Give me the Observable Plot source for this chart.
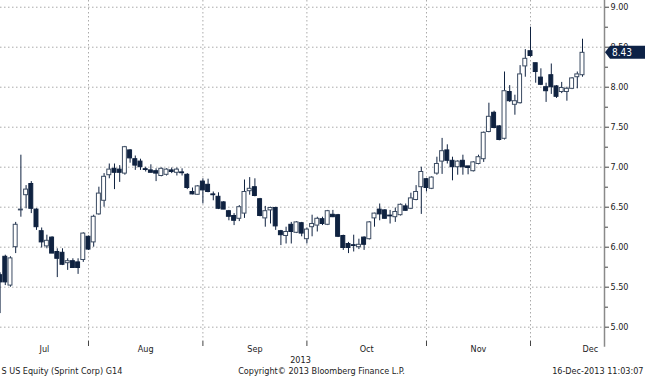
<!DOCTYPE html>
<html><head><meta charset="utf-8">
<script src="https://cdn.jsdelivr.net/npm/d3@7"></script>
<script src="https://cdn.jsdelivr.net/npm/@observablehq/plot@0.6"></script>
<style>body{margin:0;background:#fff;}#chart svg{display:block;}</style>
</head><body><div id="chart"></div>
<script>
const dates = [
"2013-07-09","2013-07-10","2013-07-11","2013-07-12","2013-07-15","2013-07-16","2013-07-17","2013-07-18","2013-07-19","2013-07-22","2013-07-23","2013-07-24","2013-07-25","2013-07-26","2013-07-29","2013-07-30","2013-07-31",
"2013-08-01","2013-08-02","2013-08-05","2013-08-06","2013-08-07","2013-08-08","2013-08-09","2013-08-12","2013-08-13","2013-08-14","2013-08-15","2013-08-16","2013-08-19","2013-08-20","2013-08-21","2013-08-22","2013-08-23","2013-08-26","2013-08-27","2013-08-28","2013-08-29","2013-08-30",
"2013-09-03","2013-09-04","2013-09-05","2013-09-06","2013-09-09","2013-09-10","2013-09-11","2013-09-12","2013-09-13","2013-09-16","2013-09-17","2013-09-18","2013-09-19","2013-09-20","2013-09-23","2013-09-24","2013-09-25","2013-09-26","2013-09-27","2013-09-30",
"2013-10-01","2013-10-02","2013-10-03","2013-10-04","2013-10-07","2013-10-08","2013-10-09","2013-10-10","2013-10-11","2013-10-14","2013-10-15","2013-10-16","2013-10-17","2013-10-18","2013-10-21","2013-10-22","2013-10-23","2013-10-24","2013-10-25","2013-10-28","2013-10-29","2013-10-30","2013-10-31",
"2013-11-01","2013-11-04","2013-11-05","2013-11-06","2013-11-07","2013-11-08","2013-11-11","2013-11-12","2013-11-13","2013-11-14","2013-11-15","2013-11-18","2013-11-19","2013-11-20","2013-11-21","2013-11-22","2013-11-25","2013-11-26","2013-11-27","2013-11-29",
"2013-12-02","2013-12-03","2013-12-04","2013-12-05","2013-12-06","2013-12-09","2013-12-10","2013-12-11","2013-12-12","2013-12-13","2013-12-16"];

const open = [5.65,5.88,5.52,6.00,6.46,6.65,6.79,6.47,6.20,6.01,6.12,5.94,5.93,5.80,5.825,5.81,5.84,
6.13,6.06,6.41,6.58,6.90,6.98,6.97,6.92,7.21,7.10,7.07,6.975,6.96,6.95,6.89,6.905,6.96,6.93,6.935,6.905,6.69,6.655,
6.82,6.78,6.66,6.63,6.56,6.45,6.39,6.355,6.42,6.70,6.75,6.60,6.36,6.46,6.49,6.20,6.14,6.28,6.18,6.30,
6.10,6.25,6.27,6.35,6.28,6.405,6.40,6.14,6.04,6.025,6.00,6.12,6.10,6.36,6.47,6.46,6.395,6.375,6.40,6.51,6.48,6.59,6.75,
6.85,6.73,6.92,7.07,7.21,7.08,7.00,7.08,7.01,6.95,7.04,7.10,7.44,7.68,7.51,7.355,7.94,7.78,7.80,8.26,
8.45,8.30,8.12,8.00,8.15,8.01,7.94,7.94,7.98,8.125,8.15];

const high = [5.68,5.90,5.88,6.31,7.15,6.77,6.82,6.48,6.24,6.15,6.13,5.98,5.98,5.855,5.855,5.855,6.18,
6.14,6.40,6.75,6.92,7.04,7.04,7.02,7.26,7.22,7.14,7.10,7.00,7.03,6.98,6.99,6.98,6.99,6.99,6.98,6.92,6.74,6.77,
6.855,6.85,6.69,6.68,6.57,6.46,6.42,6.52,6.84,6.87,6.855,6.61,6.51,6.50,6.50,6.21,6.25,6.31,6.32,6.31,
6.24,6.40,6.375,6.375,6.46,6.46,6.41,6.15,6.06,6.15,6.10,6.13,6.32,6.425,6.54,6.47,6.46,6.49,6.54,6.54,6.675,6.77,7.00,
6.86,6.88,7.125,7.36,7.28,7.125,7.08,7.15,7.01,7.07,7.15,7.44,7.80,7.70,7.52,8.19,8.02,7.90,8.27,8.47,
8.75,8.30,8.23,8.05,8.29,8.02,8.06,8.00,8.12,8.19,8.60];

const low = [5.17,5.52,5.50,5.92,6.375,6.48,6.42,6.21,5.99,5.98,5.92,5.62,5.77,5.71,5.74,5.66,5.81,
5.96,6.00,6.40,6.50,6.855,6.72,6.81,6.90,7.05,6.96,6.96,6.94,6.93,6.82,6.88,6.89,6.92,6.89,6.89,6.72,6.655,6.65,
6.54,6.68,6.58,6.47,6.47,6.33,6.27,6.32,6.36,6.65,6.63,6.38,6.25,6.29,6.21,6.02,6.04,6.04,6.17,6.13,
6.04,6.13,6.19,6.27,6.27,6.37,6.12,5.96,5.92,5.94,5.97,5.96,6.09,6.25,6.33,6.35,6.29,6.31,6.39,6.45,6.47,6.58,6.41,
6.69,6.72,6.90,6.91,7.04,6.83,6.90,6.90,6.905,6.94,7.03,7.06,7.43,7.48,7.33,7.34,7.81,7.65,7.79,8.125,
8.375,8.05,8.02,7.81,7.91,7.86,7.92,7.825,7.97,7.98,8.125];

const close = [5.56,5.56,5.86,6.28,6.47,6.72,6.48,6.25,6.06,6.08,5.92,5.855,5.78,5.825,5.74,5.74,6.17,
5.97,6.38,6.67,6.88,6.97,6.93,6.93,7.25,7.11,7.02,7.00,6.965,6.93,6.92,6.98,6.97,6.94,6.97,6.925,6.74,6.66,6.76,
6.71,6.69,6.65,6.48,6.47,6.38,6.33,6.50,6.69,6.73,6.64,6.39,6.45,6.49,6.26,6.15,6.19,6.19,6.31,6.17,
6.22,6.29,6.355,6.29,6.45,6.375,6.13,5.99,5.99,6.015,6.03,6.03,6.31,6.42,6.41,6.355,6.385,6.44,6.53,6.455,6.61,6.69,6.94,
6.74,6.87,7.04,7.20,7.08,7.00,7.07,7.00,6.99,7.06,7.125,7.43,7.63,7.49,7.34,7.95,7.825,7.825,8.16,8.355,
8.39,8.19,8.03,7.95,8.00,7.88,7.99,7.98,8.11,8.16,8.43];

const monthNames = ["Jul","Aug","Sep","Oct","Nov","Dec"];
const yearLabel = "2013";
const priceTicks = [5,5.5,6,6.5,7,7.5,8,8.5,9];
const minorTicks = [5.25,5.75,6.25,6.75,7.25,7.75,8.25,8.75];
const lastPrice = 8.43;
const footerLeft = "S US Equity (Sprint Corp) G14";
const footerMid = "Copyright\u00A9 2013 Bloomberg Finance L.P.";
const footerRight = "16-Dec-2013 11:03:07";

const DARK = "#0f2240";
const candles = dates.map((d, i) => ({
  i, date: d, o: open[i], h: high[i], l: low[i], c: close[i], up: close[i] >= open[i]
}));

// first trading day of each month (after the first)
const monthStarts = [];
for (let i = 1; i < dates.length; i++) if (dates[i].slice(5,7) !== dates[i-1].slice(5,7)) monthStarts.push(i);
const xStart = 0.08, xEnd = 116.23;
const bounds = [xStart, ...monthStarts];
const monthLabels = monthNames.map((m, k) => ({
  name: m,
  pos: k < bounds.length - 1 ? (bounds[k] + bounds[k+1]) / 2 : bounds[k] + 11.5
}));

const font = "'DejaVu Sans Condensed','DejaVu Sans',sans-serif";
const chart = Plot.plot({
  width: 645, height: 380,
  marginLeft: 0, marginRight: 41, marginTop: 0, marginBottom: 39,
  style: {fontFamily: font, fontSize: "9px", color: "#222", background: "#fff"},
  x: {type: "linear", domain: [xStart, xEnd], axis: null},
  y: {domain: [4.821, 9.084], axis: null},
  marks: [
    Plot.gridY(priceTicks, {stroke: "#aaa", strokeOpacity: 1, strokeDasharray: "1.5,2.5"}),
    Plot.gridX(monthStarts, {stroke: "#aaa", strokeOpacity: 1, strokeDasharray: "1.5,2.5"}),
    Plot.ruleX(candles, {x: "i", y1: "l", y2: "h", stroke: DARK, strokeWidth: 1, clip: true}),
    Plot.rect(candles, {
      x1: d => d.i - 0.38, x2: d => d.i + 0.38,
      y1: d => Math.min(d.o, d.c), y2: d => Math.max(d.o, d.c),
      fill: d => d.up ? "#ffffff" : DARK,
      stroke: d => d.up ? "#3b4b62" : DARK,
      strokeWidth: 1, clip: true
    }),
    Plot.ruleX([xEnd], {stroke: "#8a8a8a", strokeWidth: 1.5, y1: 9.084, y2: 4.75, clip: false}),
    Plot.axisY(minorTicks, {anchor: "right", tickSize: 3, tickFormat: () => "", stroke: "#444"}),
    Plot.axisY(priceTicks, {anchor: "right", tickSize: 4, tickPadding: 2, tickFormat: d => d.toFixed(2), stroke: "#444", fill: "#222", fontSize: 9}),
    Plot.axisX(monthStarts, {anchor: "bottom", tickSize: 5, tickFormat: () => "", stroke: "#444"}),
    Plot.text(monthLabels, {x: "pos", text: "name", frameAnchor: "bottom", dy: 10, fill: "#222"}),
    Plot.text([yearLabel], {frameAnchor: "bottom", dx: -2, dy: 21, fill: "#222"}),
    Plot.text([footerLeft], {frameAnchor: "bottom-left", textAnchor: "start", dx: 1, dy: 32, fill: "#222"}),
    Plot.text([footerMid], {frameAnchor: "bottom", dx: 19, dy: 32, fill: "#222"}),
    Plot.text([footerRight], {frameAnchor: "bottom-right", textAnchor: "end", dx: 39, dy: 32, fill: "#222"})
  ]
});

// last price tag pointing at the price axis
const ys = chart.scale("y").apply(lastPrice);
const xa = chart.scale("x").apply(xEnd);
const svg = d3.select(chart);
const g = svg.append("g");
g.append("path")
  .attr("d", `M${xa+1},${ys} L${xa+6},${ys-6.5} L645,${ys-6.5} L645,${ys+6.5} L${xa+6},${ys+6.5} Z`)
  .attr("fill", "#0d2246");
g.append("text").attr("x", xa + 8).attr("y", ys).attr("dy", "0.35em")
  .attr("text-anchor", "start")
  .attr("fill", "#fff").attr("font-size", 10).attr("font-family", font)
  .text(lastPrice.toFixed(2));

document.getElementById("chart").appendChild(chart);
</script>
</body></html>
